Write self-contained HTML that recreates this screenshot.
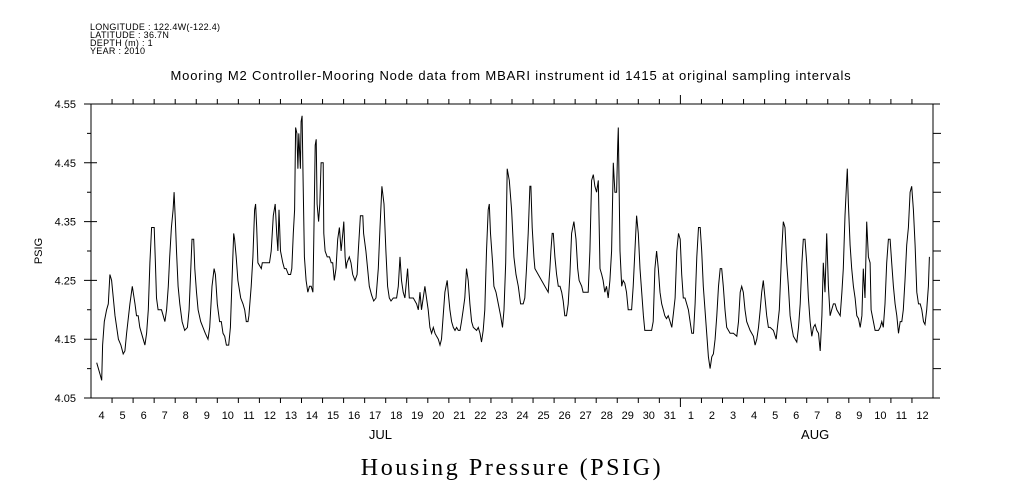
<!DOCTYPE html>
<html><head><meta charset="utf-8"><style>
html,body{margin:0;padding:0;background:#fff}
svg{display:block}
text{font-family:"Liberation Sans",sans-serif;fill:#000}
</style></head><body>
<svg id="chart" width="1009" height="504" viewBox="0 0 1009 504">
<g font-size="9">
<text x="90" y="30" letter-spacing="0.3">LONGITUDE : 122.4W(-122.4)</text>
<text x="90" y="38" letter-spacing="0.3">LATITUDE : 36.7N</text>
<text x="90" y="46" letter-spacing="0.3">DEPTH (m) : 1</text>
<text x="90" y="54" letter-spacing="0.3">YEAR : 2010</text>
</g>
<text x="511" y="80" font-size="13" text-anchor="middle" letter-spacing="0.85">Mooring M2 Controller-Mooring Node data from MBARI instrument id 1415 at original sampling intervals</text>
<text x="42" y="251" font-size="11" text-anchor="middle" transform="rotate(-90 42 251)">PSIG</text>
<text x="512" y="475" font-size="24" text-anchor="middle" letter-spacing="2.6" style="font-family:'Liberation Serif',serif">Housing Pressure (PSIG)</text>
<rect x="91" y="104" width="842" height="294" fill="none" stroke="#000" stroke-width="1"/>
<g id="axes"></g>
<path id="series" fill="none" stroke="#000" stroke-width="1"/>
</svg>
<script>
const days=[.27,.43,.51,.55,.63,.74,.82,.90,.98,1.06,1.14,1.22,1.30,1.42,1.53,1.61,1.69,1.85,1.96,2.09,2.16,2.24,2.32,2.48,2.56,2.64,2.72,2.80,2.88,3.00,3.06,3.11,3.19,3.35,3.43,3.51,3.59,3.67,3.74,3.82,3.90,3.95,4.01,4.06,4.14,4.22,4.33,4.45,4.58,4.66,4.74,4.80,4.88,4.93,5.01,5.09,5.21,5.32,5.43,5.56,5.64,5.75,5.85,5.91,6.00,6.11,6.19,6.27,6.35,6.43,6.54,6.62,6.70,6.78,6.82,6.90,6.98,7.11,7.22,7.30,7.38,7.46,7.50,7.61,7.69,7.77,7.82,7.87,7.93,8.09,8.14,8.33,8.48,8.56,8.66,8.75,8.82,8.88,8.93,9.00,9.11,9.19,9.27,9.38,9.48,9.54,9.61,9.67,9.72,9.78,9.83,9.87,9.95,9.98,10.03,10.08,10.14,10.22,10.30,10.38,10.46,10.54,10.58,10.65,10.70,10.74,10.81,10.87,10.93,11.03,11.06,11.12,11.22,11.33,11.41,11.48,11.56,11.64,11.72,11.80,11.88,11.96,12.01,12.07,12.12,12.16,12.27,12.35,12.43,12.54,12.64,12.70,12.80,12.91,12.95,13.06,13.14,13.22,13.33,13.43,13.54,13.65,13.73,13.82,
13.92,14.01,14.09,14.17,14.25,14.36,14.52,14.60,14.68,14.75,14.83,14.91,14.99,15.04,15.12,15.23,15.31,15.47,15.55,15.63,15.70,15.78,15.86,15.94,16.02,16.10,16.18,16.26,16.34,16.42,16.50,16.58,16.65,16.73,16.81,16.92,16.97,17.05,17.13,17.21,17.29,17.37,17.45,17.53,17.60,17.68,17.76,17.84,17.92,18.00,18.08,18.16,18.32,18.40,18.48,18.55,18.63,18.71,18.79,18.87,18.92,18.98,19.08,19.14,19.24,19.35,19.46,19.55,19.62,19.70,19.77,19.87,19.98,20.09,20.19,20.30,20.41,20.53,20.61,20.69,20.77,20.85,20.90,20.96,21.04,21.09,21.72,21.80,21.85,21.91,21.96,22.04,22.12,22.20,22.28,22.36,22.43,22.51,22.59,22.67,22.75,22.83,22.94,23.04,23.12,23.19,23.31,23.38,23.54,23.62,23.70,23.78,23.86,23.94,24.02,24.10,24.18,24.26,24.33,24.41,24.49,24.57,24.65,24.73,24.81,24.89,24.97,25.02,25.05,25.13,25.21,25.28,25.36,25.44,25.52,25.60,25.68,25.76,25.84,25.92,26.00,26.08,26.16,26.24,26.31,26.47,26.63,26.71,26.79,26.87,26.95,27.03,27.11,27.19,27.26,27.34,27.42,
27.51,27.59,27.67,27.75,27.83,27.91,27.99,28.06,28.14,28.22,28.30,28.38,28.46,28.54,28.62,28.70,28.78,28.86,28.94,29.01,29.09,29.17,29.25,29.33,29.41,29.49,29.57,29.65,29.73,29.81,29.89,29.96,30.04,30.12,30.20,30.36,30.52,30.68,30.76,30.84,30.91,30.99,31.07,31.15,31.31,31.47,31.55,31.63,31.71,31.79,31.86,31.94,32.02,32.10,32.18,32.26,32.42,32.55,32.61,32.70,32.81,32.89,32.97,33.05,33.13,33.21,33.29,33.37,33.53,33.61,33.69,33.77,33.84,33.92,34.00,34.08,34.16,34.24,34.32,34.40,34.48,34.56,34.64,34.72,34.79,34.87,34.95,35.03,35.11,35.19,35.27,35.35,35.43,35.51,35.59,35.67,35.74,35.82,35.90,35.93,35.98,36.06,36.14,36.22,36.30,36.38,36.46,36.54,36.62,36.69,36.77,36.85,36.93,37.01,37.06,37.17,37.25,37.41,37.49,37.57,37.64,37.72,37.80,37.88,37.96,38.04,38.12,38.20,38.28,38.36,38.44,38.52,38.59,38.67,38.75,38.83,38.91,38.99,39.07,39.15,39.23,39.31,39.39,39.47,39.55,39.62,39.70,39.78,39.83];
const pressure=[4.11,4.09,4.08,4.14,4.18,4.20,4.21,4.26,4.25,4.22,4.19,4.17,4.15,4.14,4.125,4.13,4.16,4.21,4.24,4.21,4.19,4.19,4.17,4.15,4.14,4.16,4.20,4.28,4.34,4.34,4.28,4.22,4.20,4.20,4.19,4.18,4.20,4.24,4.29,4.34,4.37,4.40,4.35,4.30,4.24,4.21,4.18,4.165,4.17,4.20,4.27,4.32,4.32,4.27,4.23,4.20,4.18,4.17,4.16,4.15,4.17,4.24,4.27,4.26,4.21,4.18,4.18,4.16,4.155,4.14,4.14,4.17,4.25,4.33,4.32,4.29,4.25,4.22,4.21,4.20,4.18,4.18,4.19,4.24,4.29,4.37,4.38,4.34,4.28,4.27,4.28,4.28,4.28,4.30,4.36,4.38,4.33,4.30,4.37,4.30,4.28,4.27,4.27,4.26,4.26,4.27,4.33,4.37,4.51,4.50,4.44,4.50,4.44,4.52,4.53,4.41,4.29,4.25,4.23,4.24,4.24,4.23,4.31,4.48,4.49,4.38,4.35,4.38,4.45,4.45,4.33,4.30,4.29,4.29,4.28,4.28,4.25,4.27,4.32,4.34,4.30,4.33,4.35,4.29,4.27,4.28,4.29,4.28,4.26,4.25,4.26,4.30,4.36,4.36,4.33,4.30,4.27,4.24,4.225,4.215,4.22,4.27,4.34,4.41,
4.38,4.30,4.24,4.22,4.215,4.22,4.22,4.24,4.29,4.25,4.23,4.22,4.25,4.27,4.22,4.22,4.22,4.21,4.20,4.23,4.20,4.22,4.24,4.22,4.20,4.17,4.16,4.17,4.16,4.155,4.15,4.14,4.15,4.19,4.23,4.25,4.23,4.20,4.18,4.17,4.165,4.17,4.165,4.165,4.18,4.20,4.22,4.27,4.25,4.21,4.18,4.17,4.165,4.17,4.16,4.145,4.165,4.20,4.30,4.37,4.38,4.33,4.28,4.24,4.23,4.21,4.19,4.17,4.20,4.28,4.44,4.42,4.37,4.29,4.26,4.24,4.21,4.21,4.22,4.27,4.33,4.41,4.41,4.34,4.29,4.27,4.23,4.27,4.30,4.33,4.33,4.29,4.26,4.24,4.24,4.23,4.215,4.19,4.19,4.21,4.26,4.33,4.35,4.32,4.27,4.25,4.24,4.23,4.23,4.23,4.30,4.42,4.43,4.41,4.40,4.42,4.27,4.26,4.25,4.23,4.24,4.22,4.25,4.30,4.45,4.40,4.40,4.48,4.51,4.30,4.24,4.25,4.245,4.23,4.20,4.20,4.20,4.24,4.30,4.36,4.33,4.27,4.23,4.19,4.165,4.165,4.165,4.18,4.27,4.30,4.27,4.23,4.21,4.20,4.19,4.185,4.19,
4.18,4.17,4.195,4.22,4.30,4.33,4.32,4.26,4.22,4.22,4.21,4.20,4.18,4.16,4.16,4.21,4.29,4.34,4.34,4.30,4.24,4.20,4.16,4.12,4.10,4.12,4.125,4.15,4.19,4.24,4.27,4.27,4.24,4.20,4.17,4.16,4.16,4.155,4.18,4.23,4.24,4.23,4.20,4.18,4.165,4.155,4.14,4.15,4.17,4.20,4.23,4.25,4.22,4.19,4.17,4.17,4.165,4.15,4.17,4.20,4.30,4.35,4.34,4.28,4.24,4.19,4.17,4.155,4.145,4.17,4.21,4.28,4.32,4.32,4.28,4.22,4.18,4.155,4.17,4.175,4.165,4.16,4.13,4.19,4.28,4.23,4.33,4.24,4.19,4.20,4.21,4.21,4.20,4.195,4.19,4.23,4.27,4.36,4.42,4.44,4.38,4.31,4.27,4.24,4.22,4.19,4.185,4.17,4.19,4.27,4.22,4.35,4.29,4.28,4.20,4.18,4.165,4.165,4.17,4.18,4.17,4.21,4.28,4.32,4.32,4.28,4.24,4.21,4.19,4.16,4.18,4.18,4.20,4.25,4.31,4.34,4.40,4.41,4.37,4.31,4.23,4.21,4.21,4.20,4.18,4.175,4.20,4.24,4.29];
const yTicks=[4.05,4.15,4.25,4.35,4.45,4.55];
const dayLabels=['4','5','6','7','8','9','10','11','12','13','14','15','16','17','18','19','20','21','22','23','24','25','26','27','28','29','30','31','1','2','3','4','5','6','7','8','9','10','11','12'];
const monthLabels=['JUL','AUG'];
const monthCenters=[13.75,34.4];
const X0=91,X1=933,Y0=398,Y1=104,D0=0,D1=40,V0=4.05,V1=4.55;
const xs=d=>X0+(d-D0)/(D1-D0)*(X1-X0);
const ys=v=>Y0-(v-V0)/(V1-V0)*(Y0-Y1);
const NS='http://www.w3.org/2000/svg';
const ax=document.getElementById('axes');
function mk(tag,at,parent){const e=document.createElementNS(NS,tag);for(const k in at)e.setAttribute(k,at[k]);(parent||ax).appendChild(e);return e;}
let tp='';
for(let i=0;i<=10;i++){const v=V0+i*0.05,y=ys(v),big=i%2===0;tp+=`M${X0-(big?7:4)} ${y}H${X0+(big?6:0)}M${X1} ${y}H${X1+(big?7:8)}`;}
for(let d=1;d<D1;d++){const x=xs(d),big=d===28;tp+=`M${x} ${Y0}V${Y0+(big?9:5)}M${x} ${Y1}V${Y1-(big?9:5)}`;}
const tk=mk('path',{d:tp,stroke:'#000','stroke-width':1,fill:'none'});


yTicks.forEach(v=>{const t=mk('text',{x:76,y:ys(v)+4,'font-size':11,'text-anchor':'end'});t.textContent=v.toFixed(2);

});
dayLabels.forEach((l,i)=>{const t=mk('text',{x:xs(i+0.5),y:419,'font-size':11,'text-anchor':'middle'});t.textContent=l;

});
monthLabels.forEach((l,i)=>{const t=mk('text',{x:xs(monthCenters[i]),y:439,'font-size':13,'text-anchor':'middle'});t.textContent=l;

});
document.getElementById('series').setAttribute('d',days.map((d,i)=>(i?'L':'M')+xs(d).toFixed(1)+' '+ys(pressure[i]).toFixed(1)).join(''));
</script>
</body></html>
